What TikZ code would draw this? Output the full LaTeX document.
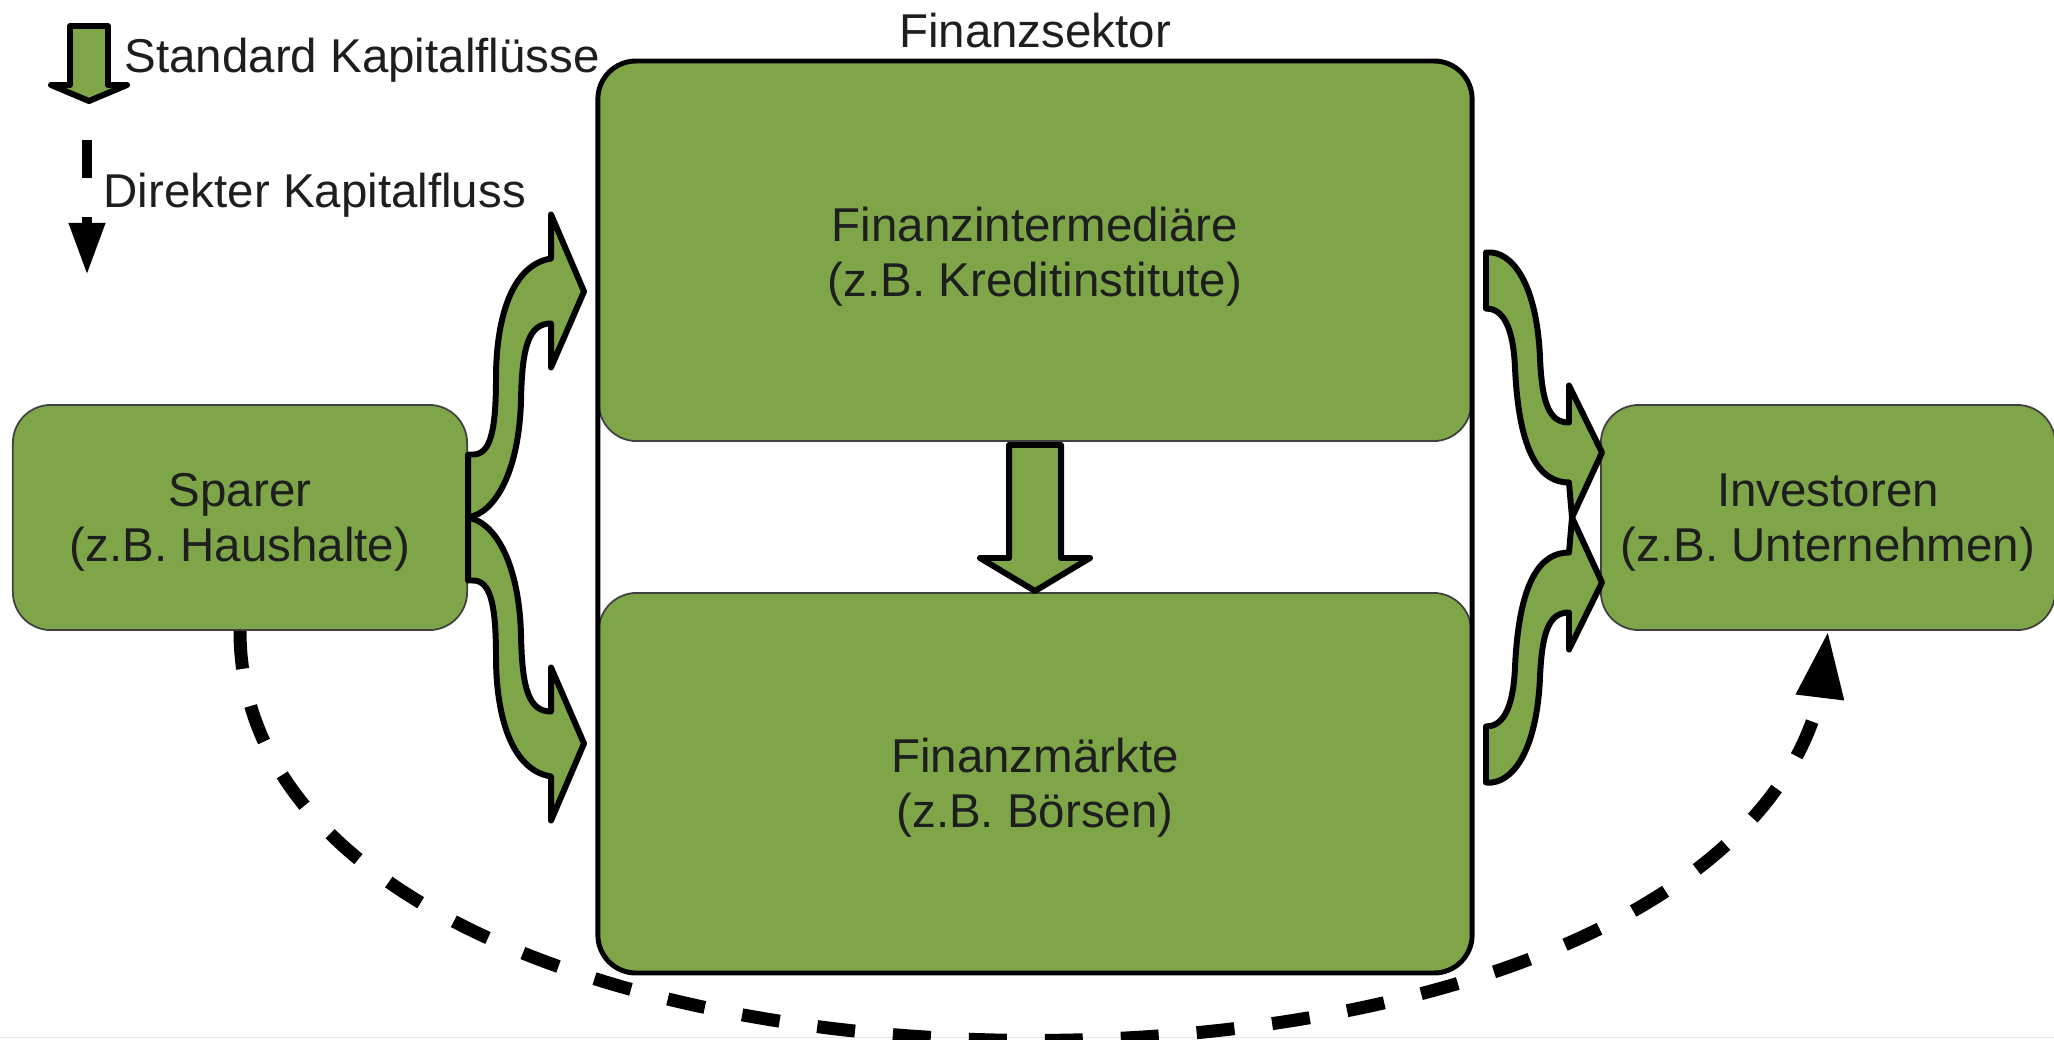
\documentclass[tikz,border=0pt]{standalone}
\usepackage{fontspec}
\setmainfont{Liberation Sans}
\usepackage{xcolor}
\usetikzlibrary{arrows.meta, bending}

\definecolor{finGreen}{RGB}{126,166,73}
\definecolor{inkGray}{RGB}{30,30,30}

\begin{document}
\begin{tikzpicture}[x=0.01cm, y=-0.01cm,
  font=\fontsize{13.5}{15.6}\selectfont, text=inkGray,
  box/.style={draw=black!75, line width=0.5pt, fill=finGreen,
    rounded corners=0.38cm, inner sep=0pt},
  boxtext/.style={align=center, inner sep=0pt, yshift=-1.4pt},
  flow/.style={draw=black, fill=finGreen, line width=1.7pt, line join=round},
  direct/.style={draw=black, line width=0.13cm,
    dash pattern=on 0.38cm off 0.38cm,
    -{Triangle[length=0.67cm, width=0.45cm]}},
  legtext/.style={anchor=base west, inner sep=0pt}]
  \useasboundingbox (0,0) rectangle (2054,1039);
  \draw[black!10, line width=0.01cm] (0,1037) -- (2054,1037);

  % Akteure
  \node[box, minimum width=4.54cm, minimum height=2.25cm,
    label={[boxtext]center:Sparer\\(z.B. Haushalte)}] (spar) at (240,517.5) {};
  \node[box, minimum width=4.54cm, minimum height=2.25cm,
    label={[boxtext]center:Investoren\\(z.B. Unternehmen)}] (inv) at (1828,517.5) {};

  % Finanzsektor
  \node[box, minimum width=8.72cm, minimum height=3.79cm,
    label={[boxtext]center:Finanzintermediäre\\(z.B. Kreditinstitute)}] (inter) at (1035,251.5) {};
  \node[box, minimum width=8.72cm, minimum height=3.79cm,
    label={[boxtext]center:Finanzmärkte\\(z.B. Börsen)}] (markt) at (1035,782.5) {};
  \draw[line width=1.4pt, rounded corners=0.38cm] (inter.north west) rectangle (markt.south east);
  \node[anchor=base, inner sep=0pt] (sektor) at (1035,47) {Finanzsektor};

  % Intermediäre -> Märkte
  \begin{scope}[shift={(inter.south)}]
    \draw[flow] (-26,3) -- (26,3) -- (26,116) -- (55,116) -- (0,149)
      -- (-55,116) -- (-26,116) -- cycle;
  \end{scope}

  % Sparer -> Finanzsektor
  \begin{scope}[shift={(spar.east)}]
    \foreach \s in {1,-1}
      \draw[flow, yscale=\s] (0,-63) -- (5,-63) .. controls (22,-63) and (28,-85) .. (28,-140)
        .. controls (28,-190) and (40,-252) .. (83,-259) -- (83,-303) -- (116,-226)
        -- (83,-150) -- (83,-194) .. controls (61,-194) and (54,-172) .. (53,-117)
        .. controls (51,-47) and (28,-5) .. (0,0) -- cycle;
  \end{scope}

  % Finanzsektor -> Investoren
  \begin{scope}[shift={(inv.west)}]
    \foreach \s in {1,-1}
      \draw[flow, yscale=\s] (-114,-265) -- (-108,-265) .. controls (-84,-262) and (-63,-228) .. (-60,-160)
        .. controls (-58,-112) and (-50,-95) .. (-31,-95) -- (-31,-132) -- (2,-65)
        -- (-28,0) -- (-31,-35) .. controls (-59,-35) and (-81,-62) .. (-85,-150)
        .. controls (-87,-195) and (-99,-209) .. (-114,-209) -- cycle;
  \end{scope}

  % direkter Kapitalfluss
  \draw[direct] (spar.south) .. controls +(0,546) and +(0,546) .. (inv.south);

  % Legende
  \draw[flow] (70,26) -- (108,26) -- (108,85) -- (127,85) -- (89,101)
    -- (51,85) -- (70,85) -- cycle;
  \node[legtext] (std) at (124,72) {Standard Kapitalflüsse};
  \coordinate (dirA) at (87,140);
  \coordinate (dirB) at (87,275);
  \draw[direct, line width=0.1cm, dash pattern=on 0.38cm off 0.39cm,
    -{Triangle[length=0.52cm, width=0.34cm]}] (dirA) -- (dirB);
  \node[legtext] (dir) at (103,207) {Direkter Kapitalfluss};
\end{tikzpicture}
\end{document}
